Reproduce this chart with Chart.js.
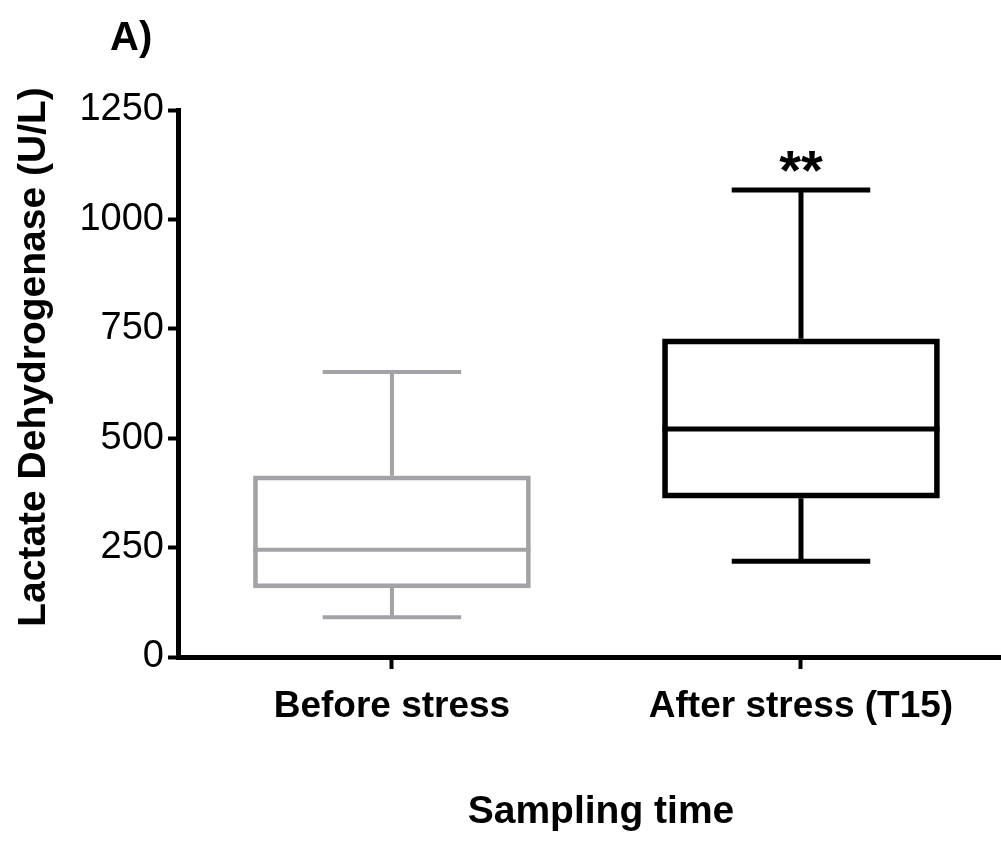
<!DOCTYPE html>
<html>
<head>
<meta charset="utf-8">
<script src="https://cdn.jsdelivr.net/npm/chart.js@4.4.1/dist/chart.umd.min.js"></script>
<style>
  html, body { margin: 0; padding: 0; background: #fff; overflow: hidden; }
  #wrap { width: 1001px; height: 843px; position: relative; }
</style>
</head>
<body>
<div id="wrap"><canvas id="chart"></canvas></div>
<script>
// box plot values (U/L)
const categories = ['Before stress', 'After stress (T15)'];
const lowWhisker = [91, 219];
const q1 = [158, 363];
const median = [245, 521];
const q3 = [414, 727];
const highWhisker = [651, 1067];
const significance = ['', '**'];
const yTicks = [0, 250, 500, 750, 1000, 1250];

const FONT = "'Liberation Sans', Arial, sans-serif";
const boxColors = ['#a3a3a7', '#000000'];
const boxLines = [4, 5];

// whiskers, caps, medians and the stars on top of the floating bars
const boxPlot = {
  id: 'boxPlot',
  afterDatasetsDraw(chart) {
    const { ctx, scales: { y } } = chart;
    const meta = chart.getDatasetMeta(0);
    ctx.save();
    meta.data.forEach((bar, i) => {
      const cx = bar.x;
      const half = bar.width / 2;
      const capHalf = half / 2;
      ctx.strokeStyle = boxColors[i];
      ctx.lineWidth = boxLines[i];
      ctx.lineCap = 'butt';

      const yMin = y.getPixelForValue(lowWhisker[i]);
      const yQ1 = y.getPixelForValue(q1[i]);
      const yMed = y.getPixelForValue(median[i]);
      const yQ3 = y.getPixelForValue(q3[i]);
      const yMax = y.getPixelForValue(highWhisker[i]);

      ctx.beginPath();
      ctx.moveTo(cx - half, yMed); ctx.lineTo(cx + half, yMed);
      ctx.moveTo(cx, yQ3); ctx.lineTo(cx, yMax);
      ctx.moveTo(cx - capHalf, yMax); ctx.lineTo(cx + capHalf, yMax);
      ctx.moveTo(cx, yQ1); ctx.lineTo(cx, yMin);
      ctx.moveTo(cx - capHalf, yMin); ctx.lineTo(cx + capHalf, yMin);
      ctx.stroke();

      if (significance[i]) {
        ctx.fillStyle = '#000';
        ctx.font = 'bold 56px ' + FONT;
        ctx.textAlign = 'center';
        ctx.textBaseline = 'alphabetic';
        ctx.fillText(significance[i], cx, yMax - 1);
      }
    });
    ctx.restore();
  },
  afterDraw(chart) {
    const { ctx } = chart;
    ctx.save();
    ctx.fillStyle = '#000';
    // panel letter
    ctx.font = 'bold 40px ' + FONT;
    ctx.textAlign = 'left';
    ctx.textBaseline = 'alphabetic';
    ctx.fillText('A)', 110, 50);
    // x title
    ctx.font = 'bold 39px ' + FONT;
    ctx.textAlign = 'center';
    ctx.fillText('Sampling time', 601, 823);
    // y title
    ctx.translate(45, 357);
    ctx.rotate(-Math.PI / 2);
    ctx.fillText('Lactate Dehydrogenase (U/L)', 0, 0);
    ctx.restore();
  }
};

const ctx = document.getElementById('chart').getContext('2d');
new Chart(ctx, {
  type: 'bar',
  data: {
    datasets: [{
      data: categories.map((c, i) => ({ x: i, y: [q1[i], q3[i]] })),
      backgroundColor: 'rgba(0,0,0,0)',
      borderColor: boxColors,
      borderWidth: boxLines,
      borderSkipped: false,
      barThickness: 277
    }]
  },
  options: {
    responsive: true,
    maintainAspectRatio: false,
    animation: false,
    layout: { padding: { top: 110, right: 0, left: 0, bottom: 0 } },
    plugins: {
      legend: { display: false },
      tooltip: { enabled: false },
      title: { display: false }
    },
    scales: {
      x: {
        type: 'linear',
        min: -0.523,
        max: 1.489,
        offset: false,
        afterFit: s => { s.height = 186; },
        afterBuildTicks: s => { s.ticks = categories.map((c, i) => ({ value: i })); },
        ticks: {
          autoSkip: false,
          maxRotation: 0,
          padding: 16,
          color: '#000',
          font: { family: FONT, size: 37, weight: 'bold' },
          callback: v => categories[v]
        },
        grid: {
          offset: false,
          drawOnChartArea: false,
          drawTicks: true,
          tickLength: 12,
          tickWidth: 4,
          tickColor: '#000'
        },
        border: { display: true, width: 5, color: '#000' }
      },
      y: {
        min: 0,
        max: 1250,
        afterFit: s => { s.width = 178; },
        afterBuildTicks: s => { s.ticks = yTicks.map(v => ({ value: v })); },
        ticks: {
          padding: 4,
          color: '#000',
          font: { family: FONT, size: 38 },
          callback: v => String(v)
        },
        grid: {
          drawOnChartArea: false,
          drawTicks: true,
          tickLength: 10,
          tickWidth: 4,
          tickColor: '#000'
        },
        border: { display: true, width: 5, color: '#000' }
      }
    }
  },
  plugins: [boxPlot]
});
</script>
</body>
</html>
